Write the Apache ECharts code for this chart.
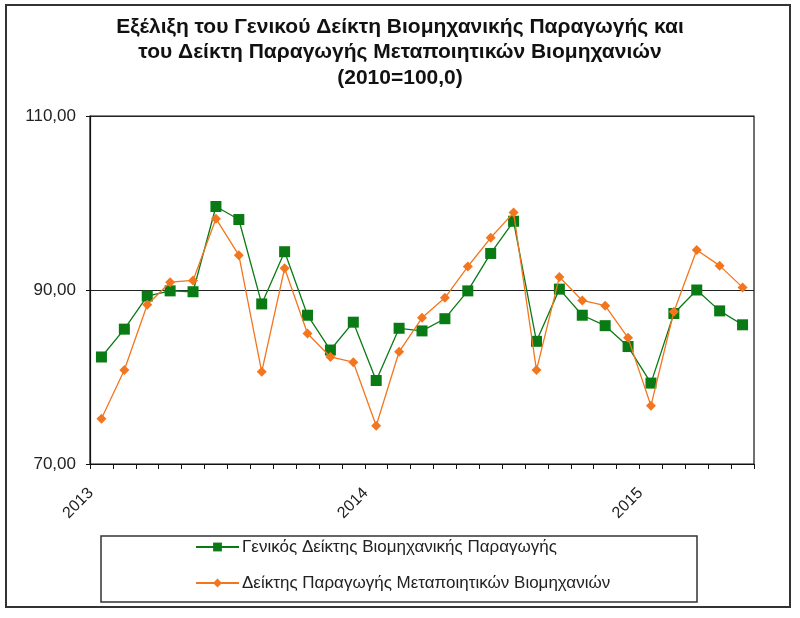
<!DOCTYPE html>
<html>
<head>
<meta charset="utf-8">
<script src="https://cdn.jsdelivr.net/npm/echarts@6/dist/echarts.min.js"></script>
<style>
  html, body { margin: 0; padding: 0; background: #fff; }
  #chart { width: 800px; height: 618px; }
</style>
</head>
<body>
<div id="chart"></div>
<script>
// ─── Data ─────────────────────────────────────────────────────────────────
// Monthly, Jan 2013 .. May 2015
const months = [
  '2013-01','2013-02','2013-03','2013-04','2013-05','2013-06','2013-07','2013-08','2013-09','2013-10','2013-11','2013-12',
  '2014-01','2014-02','2014-03','2014-04','2014-05','2014-06','2014-07','2014-08','2014-09','2014-10','2014-11','2014-12',
  '2015-01','2015-02','2015-03','2015-04','2015-05'
];
const yearLabels = { '2013-01': '2013', '2014-01': '2014', '2015-01': '2015' };

const generalIndex = [
  82.3, 85.5, 89.3, 89.9, 89.8, 99.6, 98.1, 88.4, 94.4, 87.1, 83.1, 86.3,
  79.6, 85.6, 85.3, 86.7, 89.9, 94.2, 97.9, 84.1, 90.1, 87.1, 85.9, 83.5,
  79.3, 87.3, 90.0, 87.6, 86.0
];
const manufIndex = [
  75.2, 80.8, 88.3, 90.9, 91.1, 98.2, 94.0, 80.6, 92.5, 85.0, 82.3, 81.7,
  74.4, 82.9, 86.8, 89.1, 92.7, 96.0, 98.9, 80.8, 91.5, 88.8, 88.2, 84.5,
  76.7, 87.5, 94.6, 92.8, 90.3
];

const seriesNames = [
  'Γενικός Δείκτης Βιομηχανικής Παραγωγής',
  'Δείκτης Παραγωγής Μεταποιητικών Βιομηχανιών'
];
const titleLines = [
  'Εξέλιξη του Γενικού Δείκτη Βιομηχανικής Παραγωγής και',
  'του Δείκτη Παραγωγής Μεταποιητικών Βιομηχανιών',
  '(2010=100,0)'
];

const GREEN = '#0a7a14';
const ORANGE = '#f3761e';
const FONT = '"Liberation Sans", Arial, sans-serif';

// ─── Chart ────────────────────────────────────────────────────────────────
const chart = echarts.init(document.getElementById('chart'));

chart.setOption({
  animation: false,
  backgroundColor: '#fff',
  textStyle: { fontFamily: FONT },
  title: {
    text: titleLines.join('\n'),
    left: 'center',
    top: 9,
    textStyle: { fontFamily: FONT, fontSize: 21, fontWeight: 'bold', color: '#111', lineHeight: 25.5 }
  },
  graphic: [
    // outer frame
    { type: 'rect', shape: { x: 6, y: 5, width: 784, height: 602 },
      style: { fill: 'none', stroke: '#333', lineWidth: 2 }, z: 0 },
    // legend frame
    { type: 'rect', shape: { x: 101, y: 536, width: 596, height: 66 },
      style: { fill: 'none', stroke: '#333', lineWidth: 1.5 }, z: 0 }
  ],
  legend: {
    orient: 'vertical',
    left: 195,
    top: 537,
    padding: 0,
    itemGap: 16,
    itemWidth: 43,
    itemHeight: 11,
    textStyle: { fontFamily: FONT, fontSize: 17, color: '#222', lineHeight: 20, padding: [0, 0, 0, -2] },
    data: seriesNames
  },
  grid: {
    left: 90, right: 46, top: 116, bottom: 154,
    show: true, borderColor: '#111', borderWidth: 1.2,
    containLabel: false
  },
  xAxis: {
    type: 'category',
    data: months,
    boundaryGap: true,
    axisLine: { lineStyle: { color: '#111', width: 1.2 } },
    axisTick: { show: true, interval: 0, length: 5, lineStyle: { color: '#111' } },
    axisLabel: {
      interval: 0,
      rotate: 45,
      margin: 16,
      padding: [0, 15, 0, 0],
      fontSize: 16,
      color: '#222',
      formatter: v => yearLabels[v] || ''
    },
    splitLine: { show: false }
  },
  yAxis: {
    type: 'value',
    min: 70, max: 110, interval: 20,
    axisLine: { show: true, lineStyle: { color: '#111', width: 1.2 } },
    axisTick: { show: true, length: 4, lineStyle: { color: '#111' } },
    axisLabel: {
      fontSize: 17, color: '#222', margin: 14,
      formatter: v => v.toFixed(2).replace('.', ',')
    },
    splitLine: { show: true, lineStyle: { color: '#222', width: 1 } }
  },
  series: [
    {
      name: seriesNames[0],
      type: 'line',
      data: generalIndex,
      symbol: 'rect',
      symbolSize: 11,
      itemStyle: { color: GREEN },
      lineStyle: { color: GREEN, width: 1.3 },
      z: 3
    },
    {
      name: seriesNames[1],
      type: 'line',
      data: manufIndex,
      symbol: 'diamond',
      symbolSize: 10,
      itemStyle: { color: ORANGE },
      lineStyle: { color: ORANGE, width: 1.3 },
      z: 4
    }
  ]
});
</script>
</body>
</html>
